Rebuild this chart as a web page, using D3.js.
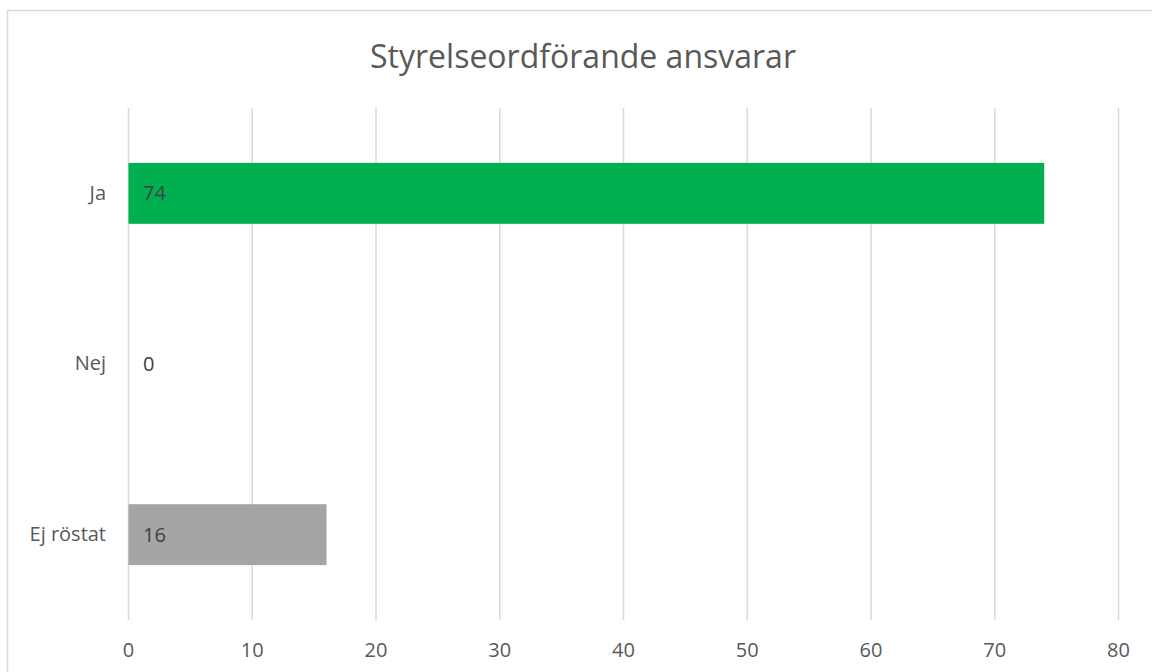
<!DOCTYPE html>
<html><head><meta charset="utf-8">
<script src="https://cdn.jsdelivr.net/npm/d3@7"></script>
<style>body{margin:0;background:#fff;}svg{display:block;}</style>
</head><body>
<svg id="c" width="1152" height="672"></svg>
<script>
const categories = ["Ja", "Nej", "Ej röstat"];
const values = [74, 0, 16];
const colors = ["#00b050", "#00b050", "#a5a5a5"];
const tickValues = [0, 10, 20, 30, 40, 50, 60, 70, 80];
const title = "Styrelseordförande ansvarar";

const svg = d3.select("#c");
const font = "'Open Sans', sans-serif";

// chart area border
svg.append("rect").attr("x", 7.5).attr("y", 10.5).attr("width", 1160).attr("height", 680)
  .attr("fill", "#fff").attr("stroke", "#d9d9d9").attr("stroke-width", 1.5);

const x = d3.scaleLinear().domain([0, 80]).range([128, 1118]);
const y = d3.scaleBand().domain(categories).range([108, 620]).paddingInner(0.643).paddingOuter(0.3215);

// gridlines
svg.append("g").selectAll("line").data(tickValues).join("line")
  .attr("x1", d => x(d) + 0.5).attr("x2", d => x(d) + 0.5)
  .attr("y1", 108).attr("y2", 620)
  .attr("stroke", "#d9d9d9").attr("stroke-width", 1.5);

// bars
svg.append("g").selectAll("rect").data(values).join("rect")
  .attr("x", x(0) + 0.5).attr("y", (d, i) => y(categories[i]))
  .attr("width", d => Math.max(0, x(d) - x(0)))
  .attr("height", y.bandwidth())
  .attr("fill", (d, i) => colors[i]);

// axis tick labels
const xAxis = d3.axisBottom(x).tickValues(tickValues).tickSize(0).tickPadding(0);
const gx = svg.append("g").attr("transform", "translate(0,657)").call(xAxis);
gx.select(".domain").remove();
gx.selectAll("text").attr("font-family", font).attr("font-size", 20).attr("fill", "#595959").attr("dy", 0).attr("y", 0);

const yAxis = d3.axisLeft(y).tickSize(0).tickPadding(22);
const gy = svg.append("g").attr("transform", `translate(${x(0)},0)`).call(yAxis);
gy.select(".domain").remove();
gy.selectAll("text").attr("font-family", font).attr("font-size", 20).attr("fill", "#595959");

// data labels
svg.append("g").selectAll("text").data(values).join("text")
  .attr("x", x(0) + 15).attr("y", (d, i) => y(categories[i]) + y.bandwidth() / 2)
  .attr("dy", "0.35em")
  .attr("font-family", font).attr("font-size", 20).attr("fill", "#404040")
  .text(d => d);

// title
svg.append("text").attr("x", 583).attr("y", 68).attr("text-anchor", "middle")
  .attr("font-family", font).attr("font-size", 32).attr("fill", "#595959")
  .text(title);
</script>
</body></html>
